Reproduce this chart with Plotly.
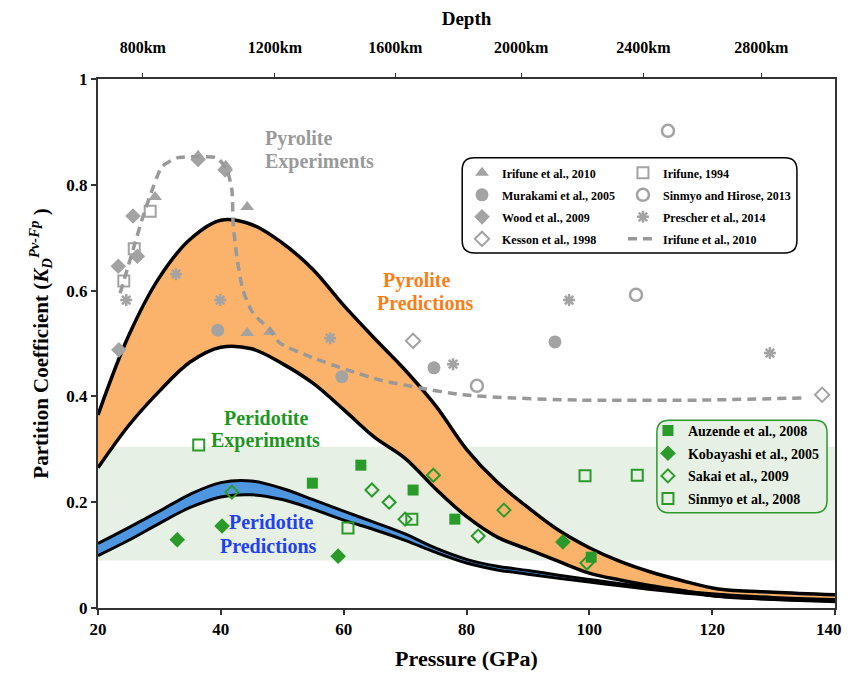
import plotly.graph_objects as go

# ---------------- data ----------------
P_grid = [20, 25, 30, 35, 40, 45, 50, 55, 60, 65, 70, 75, 80, 85, 90, 95, 100, 105, 110, 115, 121, 130, 140]
pyr_upper = [0.365, 0.515, 0.625, 0.697, 0.733, 0.725, 0.69, 0.64, 0.572, 0.51, 0.45, 0.382, 0.30, 0.238,
             0.19, 0.147, 0.114, 0.088, 0.068, 0.052, 0.036, 0.03, 0.025]
pyr_lower = [0.265, 0.345, 0.41, 0.465, 0.493, 0.49, 0.462, 0.425, 0.375, 0.323, 0.283, 0.225, 0.173, 0.134,
             0.111, 0.088, 0.066, 0.053, 0.042, 0.033, 0.022, 0.017, 0.013]
per_upper = [0.122, 0.152, 0.183, 0.215, 0.237, 0.24, 0.226, 0.205, 0.183, 0.162, 0.14, 0.113, 0.092, 0.079,
             0.071, 0.062, 0.054, 0.046, 0.039, 0.032, 0.026, 0.02, 0.016]
per_lower = [0.099, 0.128, 0.16, 0.19, 0.21, 0.214, 0.205, 0.187, 0.166, 0.148, 0.128, 0.105, 0.085, 0.072,
             0.064, 0.056, 0.049, 0.042, 0.035, 0.029, 0.022, 0.016, 0.012]

# Irifune et al., 2010 dashed trend
iri_line_P = [23.6, 25.7, 27.3, 29.0, 30.4, 32.9, 36.1, 39.4, 41.0, 41.8, 42.0, 42.6, 43.6, 45.2, 48.0, 49.6,
              55.0, 60.6, 65.9, 72.4, 79.4, 87.6, 98.5, 118.0, 134.8]
iri_line_K = [0.595, 0.677, 0.739, 0.796, 0.834, 0.851, 0.853, 0.851, 0.828, 0.790, 0.728, 0.664, 0.601, 0.558,
              0.526, 0.501, 0.473, 0.450, 0.431, 0.416, 0.403, 0.397, 0.393, 0.393, 0.397]

# pyrolite experiments
irifune2010_P = [29.3, 36.3, 40.8, 44.3, 44.3, 48.0]
irifune2010_K = [0.777, 0.855, 0.836, 0.758, 0.52, 0.522]
murakami_P = [39.5, 59.7, 74.7, 94.4]
murakami_K = [0.525, 0.437, 0.454, 0.503]
wood_P = [23.3, 25.7, 26.4, 23.4, 36.3, 40.7]
wood_K = [0.646, 0.741, 0.665, 0.488, 0.848, 0.828]
kesson_P = [71.3, 137.9]
kesson_K = [0.505, 0.403]
irifune1994_P = [24.2, 25.9, 28.5]
irifune1994_K = [0.618, 0.679, 0.75]
sinmyo2013_P = [81.7, 107.6, 112.8]
sinmyo2013_K = [0.42, 0.592, 0.902]
prescher_P = [24.6, 32.7, 39.9, 57.8, 77.8, 96.7, 129.4]
prescher_K = [0.582, 0.631, 0.582, 0.51, 0.461, 0.582, 0.482]

# peridotite experiments
auzende_P = [54.9, 62.8, 71.3, 78.1, 100.3]
auzende_K = [0.236, 0.270, 0.223, 0.168, 0.096]
kobayashi_P = [32.9, 40.2, 59.1, 95.7]
kobayashi_K = [0.129, 0.155, 0.098, 0.125]
sakai_P = [41.8, 64.6, 67.4, 70.0, 74.6, 86.1, 81.9, 99.6]
sakai_K = [0.219, 0.223, 0.200, 0.168, 0.251, 0.185, 0.136, 0.085]
sinmyo2008_P = [36.4, 60.7, 71.1, 99.3, 107.8]
sinmyo2008_K = [0.308, 0.151, 0.168, 0.250, 0.251]

# peridotite experiments range (band)
band_K = [0.09, 0.305]

# depth axis
depth_ticks_gpa = [27.3, 48.8, 68.4, 88.9, 108.8, 128.0]
depth_labels = ["800km", "1200km", "1600km", "2000km", "2400km", "2800km"]

x_ticks = [20, 40, 60, 80, 100, 120, 140]
x_tick_labels = ["20", "40", "60", "80", "100", "120", "140&nbsp;&nbsp;&nbsp;"]
y_ticks = [0, 0.2, 0.4, 0.6, 0.8, 1]
y_tick_labels = ["0", "0.2", "0.4", "0.6", "0.8", "1"]

# ---------------- styles ----------------
FONT = "Liberation Serif, Times New Roman, Times, serif"
GRAY = "#a3a3a3"
GREEN = "#2a9a2a"
ORANGE_FILL = "#fbb36b"
BLUE_FILL = "#4e97e0"
BAND = "#e7f0e4"

fig = go.Figure()

# Pyrolite prediction band
fig.add_trace(go.Scatter(x=P_grid, y=pyr_lower, mode="lines", line=dict(color="black", width=3.5, shape="spline"),
                         showlegend=False, hoverinfo="skip"))
fig.add_trace(go.Scatter(x=P_grid, y=pyr_upper, mode="lines", line=dict(color="black", width=3.5, shape="spline"),
                         fill="tonexty", fillcolor=ORANGE_FILL, showlegend=False, hoverinfo="skip"))
# Peridotite prediction band
fig.add_trace(go.Scatter(x=P_grid, y=per_lower, mode="lines", line=dict(color="black", width=3, shape="spline"),
                         showlegend=False, hoverinfo="skip"))
fig.add_trace(go.Scatter(x=P_grid, y=per_upper, mode="lines", line=dict(color="black", width=3, shape="spline"),
                         fill="tonexty", fillcolor=BLUE_FILL, showlegend=False, hoverinfo="skip"))


def pts(x, y, name, symbol, color, size, legend, group, open_=False, lw=2):
    if open_:
        marker = dict(symbol=symbol, size=size, color=color, line=dict(color=color, width=lw))
    else:
        marker = dict(symbol=symbol, size=size, color=color, line=dict(width=0))
    fig.add_trace(go.Scatter(x=x, y=y, mode="markers", name=f"<b>{name}</b>", marker=marker,
                             legend=legend, legendgroup=group))


# pyrolite legend column 1
pts(irifune2010_P, irifune2010_K, "Irifune et al., 2010", "triangle-up", GRAY, 12, "legend", "a1")
pts(murakami_P, murakami_K, "Murakami et al., 2005", "circle", GRAY, 13, "legend", "a2")
pts(wood_P, wood_K, "Wood et al., 2009", "diamond", GRAY, 12, "legend", "a3")
pts(kesson_P, kesson_K, "Kesson et al., 1998", "diamond-open", GRAY, 11, "legend", "a4", open_=True)
# pyrolite legend column 2
pts(irifune1994_P, irifune1994_K, "Irifune, 1994", "square-open", GRAY, 11, "legend2", "b1", open_=True)
pts(sinmyo2013_P, sinmyo2013_K, "Sinmyo and Hirose, 2013", "circle-open", GRAY, 12, "legend2", "b2", open_=True, lw=2.5)
pts(prescher_P, prescher_K, "Prescher et al., 2014", "asterisk-open", GRAY, 10, "legend2", "b3", open_=True, lw=2.5)
fig.add_trace(go.Scatter(x=iri_line_P, y=iri_line_K, mode="lines", name="<b>Irifune et al., 2010</b>",
                         line=dict(color="#999999", width=3.5, dash="9px,6px", shape="spline", smoothing=0.6),
                         legend="legend2", legendgroup="b4"))
# peridotite legend
pts(auzende_P, auzende_K, "Auzende et al., 2008", "square", GREEN, 11, "legend3", "c1")
pts(kobayashi_P, kobayashi_K, "Kobayashi et al., 2005", "diamond", GREEN, 12, "legend3", "c2")
pts(sakai_P, sakai_K, "Sakai et al., 2009", "diamond-open", GREEN, 10, "legend3", "c3", open_=True)
pts(sinmyo2008_P, sinmyo2008_K, "Sinmyo et al., 2008", "square-open", GREEN, 11, "legend3", "c4", open_=True)

# empty trace to anchor the top depth axis
fig.add_trace(go.Scatter(x=[None], y=[None], xaxis="x2", showlegend=False, hoverinfo="skip"))


def rounded_path(x0, x1, y0, y1, rx, ry):
    return (f"M {x0+rx} {y1} L {x1-rx} {y1} Q {x1} {y1} {x1} {y1-ry} "
            f"L {x1} {y0+ry} Q {x1} {y0} {x1-rx} {y0} L {x0+rx} {y0} Q {x0} {y0} {x0} {y0+ry} "
            f"L {x0} {y1-ry} Q {x0} {y1} {x0+rx} {y1} Z")


shapes = [
    dict(type="rect", xref="x", yref="y", x0=20, x1=140, y0=band_K[0], y1=band_K[1],
         fillcolor=BAND, line=dict(width=0), layer="below"),
    dict(type="path", xref="x", yref="y", path=rounded_path(79.3, 133.8, 0.671, 0.851, 2.0, 0.023),
         fillcolor="white", line=dict(color="black", width=1.5), layer="above"),
    dict(type="path", xref="x", yref="y", path=rounded_path(111.0, 138.7, 0.180, 0.355, 2.0, 0.023),
         fillcolor=BAND, line=dict(color=GREEN, width=1.5), layer="above"),
]

ann_font = dict(family=FONT, size=20)


def label(x, y, text, color, xanchor="center"):
    return dict(x=x, y=y, text=f"<b>{text}</b>", showarrow=False, xanchor=xanchor,
                font=dict(ann_font, color=color))


annotations = [
    label(46.9, 0.888, "Pyrolite", "#9a9a9a", "left"),
    label(46.9, 0.845, "Experiments", "#9a9a9a", "left"),
    label(71.95, 0.620, "Pyrolite", "#f77f1a"),
    label(73.26, 0.577, "Predictions", "#f77f1a"),
    label(47.5, 0.359, "Peridotite", "#1e961e"),
    label(47.2, 0.316, "Experiments", "#1e961e"),
    label(48.3, 0.163, "Peridotite", "#2240ee"),
    label(47.7, 0.117, "Predictions", "#2240ee"),
]

tickfont = dict(family=FONT, size=17, color="black")
fig.update_layout(
    width=835, height=663,
    margin=dict(l=90, r=8, t=71, b=63),
    plot_bgcolor="white", paper_bgcolor="white",
    font=dict(family=FONT, color="black"),
    shapes=shapes, annotations=annotations,
    xaxis=dict(range=[20, 140], tickvals=x_ticks, ticktext=[f"<b>{v}</b>" for v in x_tick_labels], automargin=False,
               tickfont=tickfont, ticks="outside", ticklen=5, tickwidth=1.5, tickcolor="#333",
               ticklabeloverflow="allow",
               showline=True, linecolor="#333", linewidth=2, mirror=True, showgrid=False, zeroline=False,
               title=dict(text="<b>Pressure (GPa)</b>", font=dict(family=FONT, size=22), standoff=14)),
    xaxis2=dict(range=[20, 140], overlaying="x", side="top", tickvals=depth_ticks_gpa, automargin=False,
                ticktext=[f"<b>{t}</b>" for t in depth_labels], tickfont=dict(family=FONT, size=16, color="black"),
                ticks="outside", ticklen=5, tickwidth=1, tickcolor="#333", showgrid=False, zeroline=False,
                showline=False, ticklabelstandoff=14,
                title=dict(text="<b>Depth</b>", font=dict(family=FONT, size=19), standoff=13)),
    yaxis=dict(range=[0, 1], tickvals=y_ticks, ticktext=[f"<b>{t}</b>" for t in y_tick_labels], automargin=False,
               tickfont=tickfont, ticks="outside", ticklen=5, tickwidth=1.5, tickcolor="#333",
               showline=True, linecolor="#333", linewidth=2, mirror=True, showgrid=False, zeroline=False,
               title=dict(text="<b>Partition Coefficient (<i>K<sub>D</sub></i><sup><i>Pv-Fp</i></sup> )</b>",
                          font=dict(family=FONT, size=21), standoff=12)),
    legend=dict(x=0.4939, y=0.850, xanchor="left", yanchor="top", bgcolor="rgba(0,0,0,0)", borderwidth=0,
                font=dict(family=FONT, size=12, color="black"), tracegroupgap=3, itemclick=False),
    legend2=dict(x=0.7123, y=0.850, xanchor="left", yanchor="top", bgcolor="rgba(0,0,0,0)", borderwidth=0,
                 font=dict(family=FONT, size=12, color="black"), tracegroupgap=3, itemclick=False),
    legend3=dict(x=0.7462, y=0.365, xanchor="left", yanchor="top", bgcolor="rgba(0,0,0,0)", borderwidth=0,
                 font=dict(family=FONT, size=14, color="black"), tracegroupgap=1.5, itemclick=False),
)

fig.write_html("out.html")
